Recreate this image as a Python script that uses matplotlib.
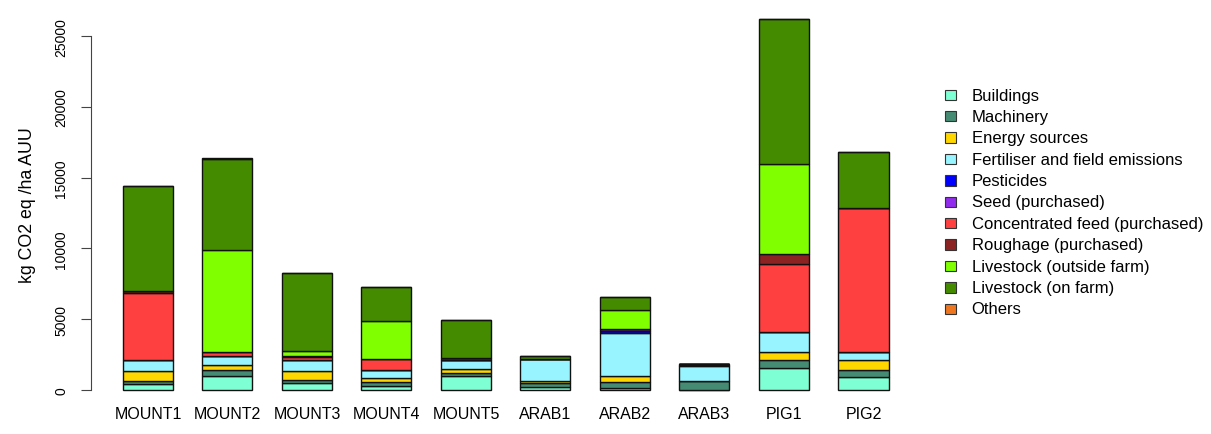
import matplotlib
matplotlib.use("Agg")
import matplotlib.pyplot as plt
from matplotlib.patches import Rectangle
import numpy as np

plt.rcParams['font.family'] = ['Liberation Sans', 'DejaVu Sans']

farms = ["MOUNT1", "MOUNT2", "MOUNT3", "MOUNT4", "MOUNT5",
         "ARAB1", "ARAB2", "ARAB3", "PIG1", "PIG2"]

categories = ["Buildings", "Machinery", "Energy sources",
              "Fertiliser and field emissions", "Pesticides", "Seed (purchased)",
              "Concentrated feed (purchased)", "Roughage (purchased)",
              "Livestock (outside farm)", "Livestock (on farm)", "Others"]

colors = ["#7FFFD4", "#458B74", "#FFD700", "#98F5FF", "#0000FF", "#912CEE",
          "#FF4040", "#8B2323", "#7FFF00", "#458B00", "#EE7621"]

buildings     = [420, 1010, 470, 260, 970, 190, 120, 20, 1530, 900]
machinery     = [220, 400, 260, 280, 250, 300, 470, 640, 570, 500]
energy        = [700, 380, 610, 280, 240, 150, 380, 0, 560, 700]
fertiliser    = [760, 630, 780, 570, 660, 1550, 3040, 1060, 1410, 560]
pesticides    = [0, 0, 0, 0, 0, 0, 140, 120, 0, 0]
seed          = [0, 0, 0, 0, 0, 0, 140, 0, 0, 0]
conc_feed     = [4730, 280, 240, 780, 0, 0, 0, 0, 4830, 10190]
roughage      = [140, 0, 60, 0, 140, 0, 0, 0, 690, 0]
live_outside  = [0, 7160, 300, 2730, 0, 0, 1390, 0, 6400, 0]
live_onfarm   = [7460, 6450, 5510, 2380, 2680, 210, 870, 0, 10220, 3930]
others        = [0, 60, 0, 0, 0, 0, 0, 0, 0, 0]

series = [buildings, machinery, energy, fertiliser, pesticides, seed,
          conc_feed, roughage, live_outside, live_onfarm, others]

W, H = 1211, 435
fig = plt.figure(figsize=(W / 100, H / 100), dpi=100)
ax = fig.add_axes([90.7 / W, 1 - 405.8 / H, 830 / W, 400.6 / H])

x = np.arange(len(farms))
bottom = np.zeros(len(farms))
for vals, col in zip(series, colors):
    v = np.array(vals, dtype=float)
    ax.bar(x, v, width=0.63, bottom=bottom, color=col, edgecolor="#111111",
           linewidth=1.0)
    bottom += v

ymax = bottom.max()
ax.set_ylim(-0.04 * ymax, 1.04 * ymax)
ax.set_xlim(-0.72, 9.72)

for s in ["top", "right", "bottom"]:
    ax.spines[s].set_visible(False)
ax.spines["left"].set_bounds(0, 25000)
ax.spines["left"].set_color("#444444")
ax.set_yticks([0, 5000, 10000, 15000, 20000, 25000])
ax.set_yticklabels(["0", "5000", "10000", "15000", "20000", "25000"],
                   rotation=90, va="center", fontsize=10)
ax.tick_params(axis="y", length=7, pad=9, color="#444444")
ax.set_xticks(x)
ax.set_xticklabels(farms, fontsize=11.5)
ax.tick_params(axis="x", length=0, pad=1)
ax.set_ylabel("kg CO2 eq /ha AUU", fontsize=12.8, labelpad=13)

# legend
lx = 945 / W
tx = 971.5 / W
for i, (cat, col) in enumerate(zip(categories, colors)):
    yc = 96 + i * 21.4
    fig.patches.append(Rectangle((lx, 1 - (yc + 5) / H), 10.5 / W, 10.5 / H,
                                 transform=fig.transFigure, facecolor=col,
                                 edgecolor="#333333", linewidth=0.8))
    fig.text(tx, 1 - yc / H, cat, fontsize=12, va="center", ha="left")

fig.savefig("out.png", dpi=100)
